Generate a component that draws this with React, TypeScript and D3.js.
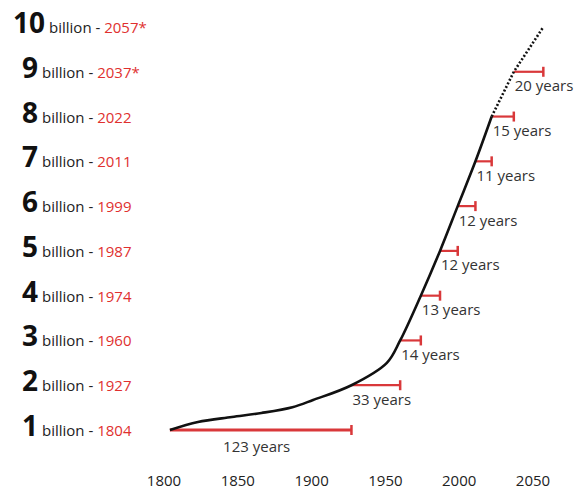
import React from "react";
import * as d3 from "d3";

// Milestones
const billions = [1, 2, 3, 4, 5, 6, 7, 8, 9, 10];
const milestoneYears = [1804, 1927, 1960, 1974, 1987, 1999, 2011, 2022, 2037, 2057];
const yearLabels = ["1804", "1927", "1960", "1974", "1987", "1999", "2011", "2022", "2037*", "2057*"];
const gapYears = [123, 33, 14, 13, 12, 12, 11, 15, 20];

// Population curve (historic, solid)
const lineYears = [1804, 1823, 1846, 1866, 1887, 1901, 1927, 1951, 1960, 1974, 1987, 1999, 2011, 2022];
const linePop = [1, 1.18, 1.29, 1.38, 1.51, 1.67, 2, 2.5, 3, 4, 5, 6, 7, 8];
// Projection (dotted)
const projYears = [2022, 2037, 2057];
const projPop = [8, 9, 10];

const axisTicks = [1800, 1850, 1900, 1950, 2000, 2050];

const W = 587;
const H = 489;
const FONT = "'Open Sans', 'DejaVu Sans', sans-serif";
const RED = "#e0302f";
const BAR_RED = "#d9383a";

export default function App() {
  const x = d3.scaleLinear().domain([1800, 2050]).range([164, 533]);
  const y = d3.scaleLinear().domain([1, 10]).range([430, 27]);

  const line = d3
    .line<[number, number]>()
    .x((d) => x(d[0]))
    .y((d) => y(d[1]))
    .curve(d3.curveCatmullRom.alpha(0.5));

  const straight = d3
    .line<[number, number]>()
    .x((d) => x(d[0]))
    .y((d) => y(d[1]));

  const solidPts = lineYears.map((yr, i) => [yr, linePop[i]] as [number, number]);
  const projPts = projYears.map((yr, i) => [yr, projPop[i]] as [number, number]);

  return (
    <svg
      width={W}
      height={H}
      viewBox={`0 0 ${W} ${H}`}
      style={{ position: "absolute", left: 0, top: 0, background: "#fff" }}
    >
      <rect width={W} height={H} fill="#fff" />

      {/* left labels */}
      {billions.map((b, i) => {
        const label = String(b);
        const tx = 22 - (label.length - 1) * 9;
        return (
          <text key={"lab" + b} x={tx} y={y(b) + 6} fontFamily={FONT}>
            <tspan fontSize={28} fontWeight={700} fill="#111">
              {label}
            </tspan>
            <tspan dx={4} fontSize={15} fill="#222">
              {"billion - "}
            </tspan>
            <tspan fontSize={15} fill={RED}>
              {yearLabels[i]}
            </tspan>
          </text>
        );
      })}

      {/* gap bars */}
      {gapYears.map((g, i) => {
        const yy = y(billions[i]);
        const x0 = x(milestoneYears[i]);
        const x1 = x(milestoneYears[i] + g);
        const long = g > 50;
        return (
          <g key={"bar" + i}>
            <line x1={x0} x2={x1} y1={yy} y2={yy} stroke={BAR_RED} strokeWidth={long ? 2.8 : 2.2} />
            <line x1={x1} x2={x1} y1={yy - 5} y2={yy + 5} stroke={BAR_RED} strokeWidth={2.5} />
            <text
              x={long ? (x0 + x1) / 2 - 4 : x0 + 1}
              y={yy + (long ? 22 : 19.5)}
              textAnchor={long ? "middle" : "start"}
              fontFamily={FONT}
              fontSize={15}
              fill="#333"
            >
              {g} years
            </text>
          </g>
        );
      })}

      {/* population line */}
      <path d={line(solidPts) || ""} fill="none" stroke="#111" strokeWidth={2.6} strokeLinejoin="round" />
      <path
        d={straight(projPts) || ""}
        fill="none"
        stroke="#111"
        strokeWidth={2.6}
        strokeDasharray="2,2"
      />

      {/* x axis labels */}
      {axisTicks.map((t) => (
        <text
          key={"t" + t}
          x={x(t)}
          y={486}
          textAnchor="middle"
          fontFamily={FONT}
          fontSize={15}
          fill="#222"
        >
          {t}
        </text>
      ))}
    </svg>
  );
}
